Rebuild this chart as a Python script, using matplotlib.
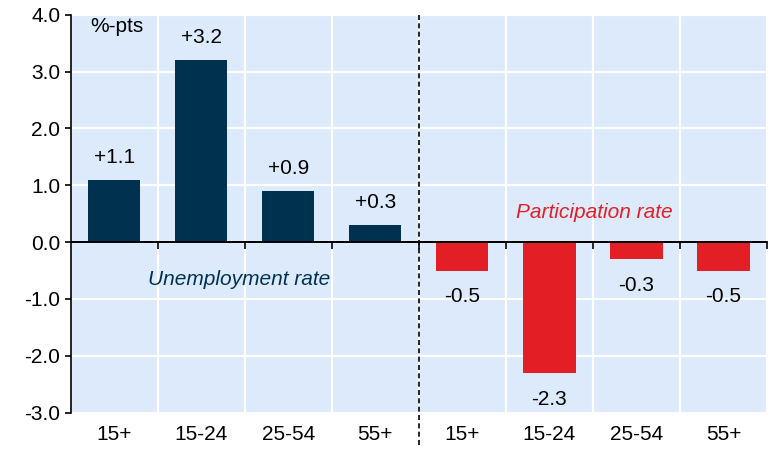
import matplotlib
matplotlib.use("Agg")
import matplotlib.pyplot as plt
import numpy as np

plt.rcParams['font.family'] = ['Liberation Sans', 'DejaVu Sans']
plt.rcParams['axes.unicode_minus'] = False

age_groups = ["15+", "15-24", "25-54", "55+"]
unemployment = [1.1, 3.2, 0.9, 0.3]
participation = [-0.5, -2.3, -0.3, -0.5]
yticks = [-3.0, -2.0, -1.0, 0.0, 1.0, 2.0, 3.0, 4.0]

navy = "#003250"
red = "#E31E24"
bg = "#DDEAFB"
FS = 15

fig = plt.figure(figsize=(7.74, 4.51), dpi=100)
ax = fig.add_axes([0.0913, 0.0849, 0.991 - 0.0913, 0.9674 - 0.0849])
ax.set_facecolor(bg)

labels = age_groups + age_groups
values = unemployment + participation
colors = [navy] * 4 + [red] * 4
x = np.arange(len(values))
ax.bar(x, values, width=0.6, color=colors, zorder=3)

ax.set_xlim(-0.5, len(values) - 0.5)
ax.set_ylim(-3.0, 4.0)

ax.set_yticks(yticks)
ax.set_yticklabels([f"{v:.1f}" for v in yticks], fontsize=FS)
bounds = np.arange(len(values) + 1) - 0.5
ax.set_xticks(bounds, minor=True)
ax.set_xticks(x)
ax.set_xticklabels(labels, fontsize=FS)
ax.tick_params(axis='x', which='both', length=0, pad=9)
ax.tick_params(axis='y', length=4.5, width=1.2, direction='out', pad=3)
ax.grid(True, which='major', axis='y', color='white', lw=1.6, zorder=1)
ax.grid(True, which='minor', axis='x', color='white', lw=1.6, zorder=1)
ax.set_axisbelow(True)

for s in ['top', 'right', 'bottom']:
    ax.spines[s].set_visible(False)
ax.spines['left'].set_linewidth(1.2)

# zero axis with ticks at category boundaries
ax.axhline(0, color='black', lw=1.3, zorder=4)
sec = ax.secondary_xaxis(3.0 / 7.0)
sec.set_zorder(5)
sec.set_xticks(bounds[1:])
sec.set_xticklabels([])
sec.tick_params(axis='x', length=5, width=1.2, direction='out')
sec.spines['bottom'].set_linewidth(1.3)

# divider
ax.plot([3.5, 3.5], [1.0, -0.086], transform=ax.get_xaxis_transform(),
        color='black', lw=1.2, ls=(0, (3, 2)), clip_on=False, zorder=4)

# value labels
for xi, v in zip(x, values):
    txt = f"+{v:.1f}" if v > 0 else f"{v:.1f}"
    off = 16 if v > 0 else -19
    ax.annotate(txt, (xi, v), xytext=(0, off), textcoords='offset points',
                ha='center', va='center', fontsize=FS, color='black', zorder=5)

ax.text(-0.28, 3.8, "%-pts", fontsize=FS, ha='left', va='center')
ax.text(1.44, -0.66, "Unemployment rate", fontsize=FS, style='italic',
        color=navy, ha='center', va='center')
ax.text(5.51, 0.53, "Participation rate", fontsize=FS, style='italic',
        color=red, ha='center', va='center')

fig.savefig("out.png", dpi=100)
